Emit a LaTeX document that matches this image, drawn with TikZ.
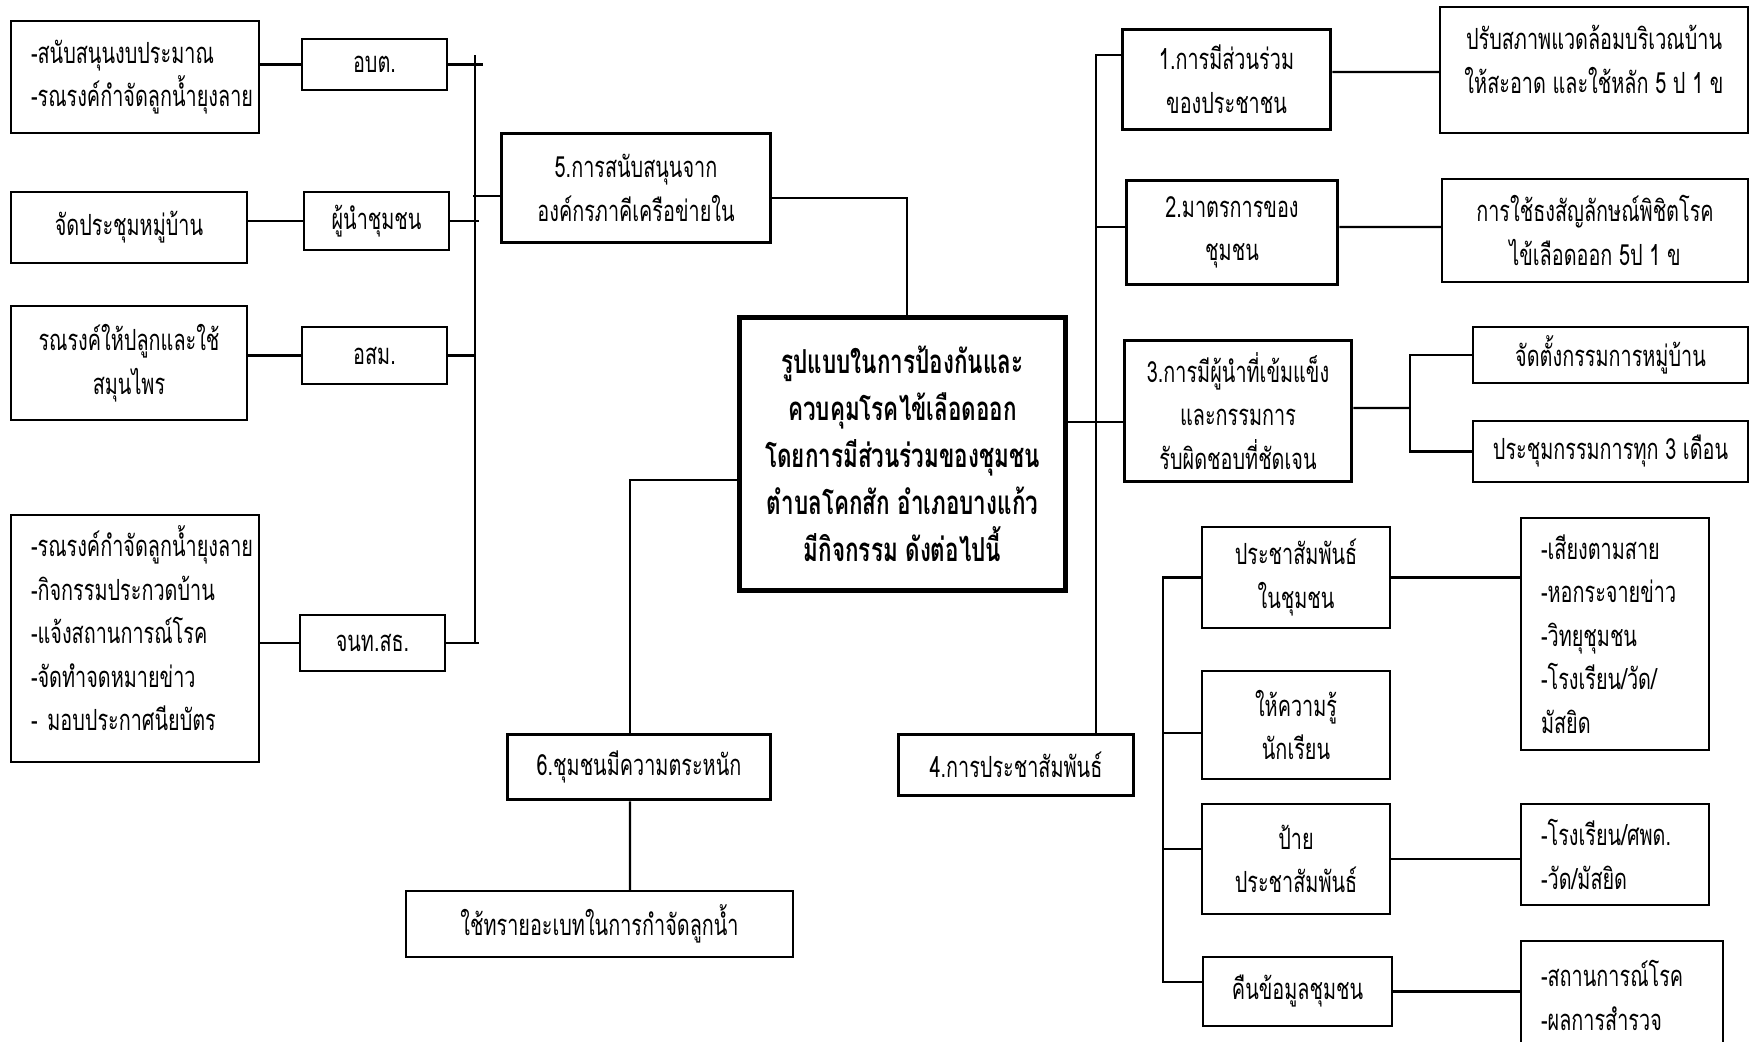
\documentclass[tikz,border=0pt]{standalone}
\usepackage{fontspec}
\usepackage{tikz}
\newfontfamily\thai[Script=Thai,FakeStretch=0.68]{Loma}
\exhyphenpenalty=10000
\hyphenpenalty=10000
\tikzstyle{box} = [draw,line width=.55pt,inner sep=0pt,align=center,font=\thai\fontsize{8.3}{12.4}\selectfont]
\tikzstyle{kbox} = [box,line width=1pt]
\tikzstyle{hub} = [box,line width=1.5pt,font=\thai\bfseries\fontsize{9.4}{13.4}\selectfont]
\tikzstyle{lst} = [box,align=left,inner xsep=2mm]
\tikzstyle{wire} = [line width=.6pt]
\tikzset{wh/.style 2 args={minimum width=#1*.1mm,minimum height=#2*.1mm}}

\begin{document}
\begin{tikzpicture}[x=.1mm,y=-.1mm]
      \useasboundingbox (0,0) rectangle (1749,1041);
      \node[lst,wh={248}{112},text width=20.8mm](sup1) at (135,77) {-สนับสนุนงบประมาณ\\-รณรงค์กำจัดลูกน้ำยุงลาย};
      \node[box,wh={145}{51}](obt) at (374.5,64.5) {อบต.};
      \node[box,wh={236}{71}](sup2) at (129,227.5) {จัดประชุมหมู่บ้าน};
      \node[box,wh={145}{58}](lead) at (376.5,221) {ผู้นำชุมชน};
      \node[box,wh={236}{114}](sup3) at (129,363) {รณรงค์ให้ปลูกและใช้\\สมุนไพร};
      \node[box,wh={145}{57}](osm) at (374.5,355.5) {อสม.};
      \node[lst,wh={248}{247},text width=20.8mm](sup4) at (135,638.5) {-รณรงค์กำจัดลูกน้ำยุงลาย\\-กิจกรรมประกวดบ้าน\\-แจ้งสถานการณ์โรค\\-จัดทำจดหมายข่าว\\- มอบประกาศนียบัตร\\[-2.3mm]\mbox{}};
      \node[box,wh={145}{56}](staff) at (372.5,643) {จนท.สธ.};
      \node[kbox,wh={269}{109}](b5) at (636,188) {5.การสนับสนุนจาก\\องค์กรภาคีเครือข่ายใน};
      \node[hub,wh={326}{273}](hub) at (902.5,454) {รูปแบบในการป้องกันและ\\ควบคุมโรคไข้เลือดออก\\โดยการมีส่วนร่วมของชุมชน\\ตำบลโคกสัก อำเภอบางแก้ว\\มีกิจกรรม ดังต่อไปนี้};
      \node[kbox,wh={208}{100}](b1) at (1226.5,79.5) {1.การมีส่วนร่วม\\ของประชาชน};
      \node[kbox,wh={211}{104}](b2) at (1232,232.5) {2.มาตรการของ\\ชุมชน};
      \node[kbox,wh={227}{141}](b3) at (1238,411) {3.การมีผู้นำที่เข้มแข็ง\\และกรรมการ\\รับผิดชอบที่ชัดเจน};
      \node[kbox,wh={235}{61}](b4) at (1016,765) {4.การประชาสัมพันธ์};
      \node[kbox,wh={263}{65}](b6) at (639,767) {6.ชุมชนมีความตระหนัก};
      \node[box,wh={387}{66}](sand) at (599.5,924) {ใช้ทรายอะเบทในการกำจัดลูกน้ำ};
      \node[box,wh={308}{126}](r1) at (1594,70) {ปรับสภาพแวดล้อมบริเวณบ้าน\\ให้สะอาด และใช้หลัก 5 ป 1 ข\\[-2.2mm]};
      \node[box,wh={306}{103}](r2) at (1595,230.5) {การใช้ธงสัญลักษณ์พิชิตโรค\\ไข้เลือดออก 5ป 1 ข};
      \node[box,wh={275}{56}](r3a) at (1610.5,355) {จัดตั้งกรรมการหมู่บ้าน};
      \node[box,wh={275}{61}](r3b) at (1610.5,451.5) {ประชุมกรรมการทุก 3 เดือน};
      \node[box,wh={188}{101}](p1) at (1296,577.5) {ประชาสัมพันธ์\\ในชุมชน};
      \node[box,wh={188}{108}](p2) at (1296,725) {ให้ความรู้\\นักเรียน};
      \node[box,wh={188}{110}](p3) at (1296,859) {ป้าย\\ประชาสัมพันธ์};
      \node[box,wh={189}{69}](p4) at (1297.5,991.5) {คืนข้อมูลชุมชน};
      \node[lst,wh={188}{232},text width=14.8mm](q1) at (1615,634) {-เสียงตามสาย\\-หอกระจายข่าว\\-วิทยุชุมชน\\-โรงเรียน/วัด/\\มัสยิด};
      \node[lst,wh={188}{101},text width=14.8mm](q3) at (1615,854.5) {-โรงเรียน/ศพด.\\-วัด/มัสยิด};
      \node[lst,wh={202}{109},text width=16.2mm](q4) at (1622,995.5) {-สถานการณ์โรค\\-ผลการสำรวจ};
      \coordinate (bus) at (475,55);
      \coordinate (f3) at (1410,408);
      \draw[wire](sup1.east|-obt.west)--(obt.west);
      \draw[wire](sup2.east|-lead.west)--(lead.west);
      \draw[wire](sup3.east|-osm.west)--(osm.west);
      \draw[wire](sup4.east|-staff.west)--(staff.west);
      \draw[wire](bus)--(bus|-staff.east);
      \draw[wire](obt.east)--++(35,0);
      \draw[wire](lead.east)--++(29,0);
      \draw[wire](osm.east)--(osm.east-|bus);
      \draw[wire](staff.east)--++(33,0);
      \draw[wire]([yshift=-.8mm]b5.west)--++(-27,0);
      \draw[wire]([yshift=-1mm]b5.east)-|([xshift=.45mm]hub.north);
      \draw[wire]([yshift=-2.6mm]hub.west)-|([xshift=-.9mm]b6.north);
      \draw[wire]([xshift=-.9mm]b6.south)--([xshift=3.05mm]sand.north);
      \draw[wire]([yshift=2.45mm]b1.west)-|([xshift=8mm]b4.north);
      \draw[wire]([yshift=.55mm]b2.west)--++(-29,0);
      \draw[wire]([yshift=-1.1mm]b3.west)--++(-57,0);
      \draw[wire]([yshift=.75mm]b1.east)--([yshift=-.2mm]r1.west);
      \draw[wire]([yshift=.55mm]b2.east)--([yshift=.35mm]r2.west);
      \draw[wire]([yshift=.3mm]b3.east)--(f3);
      \draw[wire](r3a.west)-|(f3)|-(r3b.west);
      \draw[wire](p1.west)--++(-38,0)|-([yshift=.95mm]p4.west);
      \draw[wire]([yshift=-.8mm]p2.west)--++(-38,0);
      \draw[wire]([yshift=1mm]p3.west)--++(-38,0);
      \draw[wire](p1.east)--(p1.east-|q1.west);
      \draw[wire](p3.east)--(p3.east-|q3.west);
      \draw[wire](p4.east)--(p4.east-|q4.west);
    \end{tikzpicture}
\end{document}
